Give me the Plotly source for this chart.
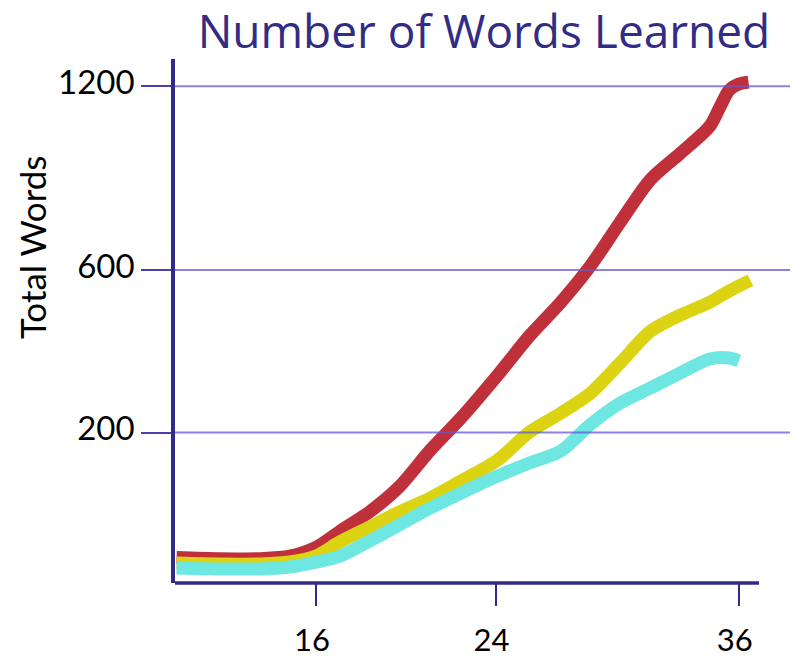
import numpy as np
import plotly.graph_objects as go

# ---------------- data ----------------
months_red = [10.4, 12.1, 13.7, 14.9, 16.0, 17.0, 18.3, 19.6, 21.0, 22.4, 24.1,
              25.6, 27.1, 28.5, 30.0, 31.5, 33.0, 34.5, 35.0, 35.5, 36.0, 36.5]
words_red = [14, 13, 13, 15, 23, 40, 65, 102, 166, 230, 325,
             421, 510, 609, 743, 878, 965, 1058, 1122, 1186, 1208, 1215]

months_yellow = [10.4, 12.1, 13.7, 14.9, 16.0, 17.0, 18.3, 19.6, 21.0, 22.4, 24.1,
                 25.6, 27.1, 28.5, 30.0, 31.5, 33.0, 34.5, 35.5, 36.6]
words_yellow = [9.7, 9.0, 9.0, 10.4, 15.2, 28.4, 45.4, 64.8, 84.9, 111.6, 147.8,
                201, 240, 282, 354, 433, 475, 510, 541, 571]

months_cyan = [10.4, 12.1, 13.7, 14.9, 16.0, 17.0, 18.3, 19.6, 21.0, 22.4, 24.1,
               25.6, 27.1, 28.5, 30.0, 31.5, 33.0, 34.5, 35.5, 36.0]
words_cyan = [6.3, 5.7, 5.7, 6.9, 10.4, 14.9, 29.5, 47.9, 70.4, 92.5, 119.9,
              142.4, 164.3, 215.2, 261.7, 295, 329.8, 363.2, 365.7, 358.4]

x_ticks = [16, 24, 36]
x_labels = ["16", "24", "36"]
y_ticks = [200, 600, 1200]
y_labels = ["200", "600", "1200"]
x_range = [10.34, 38.67]
y_range = [0, 1300]

TITLE = "Number of Words Learned"
Y_TITLE = "Total Words"


# axis scales of the drawing (power scales)
def fx(m):
    return np.power(np.asarray(m, dtype=float), 0.75)


def fy(v):
    return np.power(np.asarray(v, dtype=float), 2.0 / 3.0)


NAVY = "#33298A"
series = [
    (months_red, words_red, "#C0303A"),
    (months_yellow, words_yellow, "#DCD313"),
    (months_cyan, words_cyan, "#6EE6E1"),
]

fig = go.Figure()
for mx, wy, col in series:
    fig.add_trace(go.Scatter(
        x=fx(mx), y=fy(wy), mode="lines",
        line=dict(color=col, width=13, shape="spline", smoothing=0.8),
        hoverinfo="skip", showlegend=False,
    ))

shapes = []
for v in y_ticks:
    shapes.append(dict(type="line", xref="paper", x0=0, x1=1,
                       yref="y", y0=float(fy(v)), y1=float(fy(v)),
                       line=dict(color="rgba(100,90,210,0.75)", width=2),
                       layer="above"))
# x axis line (ends before the right edge of the grid)
shapes.append(dict(type="line", xref="paper", x0=0, x1=0.9496,
                   yref="paper", y0=0, y1=0,
                   line=dict(color=NAVY, width=3.5), layer="above"))

fig.update_layout(
    width=796, height=658,
    margin=dict(l=175, r=6, t=59, b=75, autoexpand=False),
    paper_bgcolor="white", plot_bgcolor="white",
    title=dict(text=TITLE, xref="container", yref="container",
               x=0.608, xanchor="center", y=0.951, yanchor="middle",
               automargin=False,
               font=dict(family="Open Sans", size=46, color="#332C85")),
    shapes=shapes,
    annotations=[dict(text=Y_TITLE, xref="paper", yref="paper",
                      x=-0.2325, y=0.6412, xanchor="center", yanchor="middle",
                      textangle=-90, showarrow=False,
                      font=dict(family="Lato", size=35, color="black"))],
)

fig.update_xaxes(
    range=list(fx(x_range)), showline=False, showgrid=False, zeroline=False,
    tickmode="array", tickvals=list(fx(x_ticks)), ticktext=x_labels,
    ticks="outside", ticklen=22, tickwidth=2, tickcolor=NAVY,
    ticklabelstandoff=8, ticklabelshift=-4, automargin=False,
    tickfont=dict(family="Lato", size=31, color="black"),
    layer="above traces", fixedrange=True,
)
fig.update_yaxes(
    range=list(fy(y_range)), showline=True, linecolor=NAVY, linewidth=3.5,
    showgrid=False, zeroline=False, automargin=False,
    tickmode="array", tickvals=list(fy(y_ticks)), ticktext=y_labels,
    ticks="outside", ticklen=30, tickwidth=2, tickcolor="#4A40A8",
    ticklabelshift=-4,
    tickfont=dict(family="Lato", size=33, color="black"),
    layer="above traces", fixedrange=True,
)

fig.write_html("out.html",
               config={"displayModeBar": False},
               post_script="document.body.style.margin='0';")
